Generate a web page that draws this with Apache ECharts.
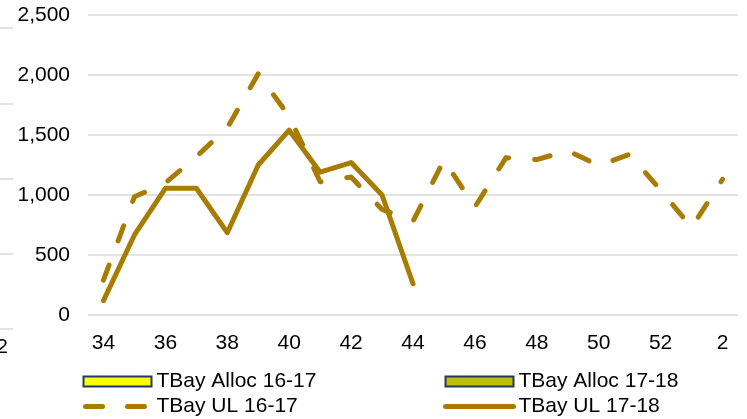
<!DOCTYPE html>
<html>
<head>
<meta charset="utf-8">
<script src="https://cdn.jsdelivr.net/npm/echarts@6/dist/echarts.min.js"></script>
<style>
html,body{margin:0;padding:0;background:#fff;}
#c{width:747px;height:419px;}
</style>
</head>
<body>
<div id="c"></div>
<script>
// ---- data ----
var categories = ['34','35','36','37','38','39','40','41','42','43','44','45','46','47','48','49','50','51','52','1','2'];
var alloc1617 = [];
var alloc1718 = [];
var ul1617 = [290, 985, 1100, 1320, 1560, 2010, 1655, 1110, 1150, 880, 780, 1290, 900, 1310, 1295, 1370, 1245, 1340, 1040, 730, 1130];
var ul1718 = [120, 667, 1056, 1056, 686, 1250, 1540, 1190, 1270, 1000, 260, null, null, null, null, null, null, null, null, null, null];
var yTicks = {min: 0, max: 2500, interval: 500};

var gold = '#A87C00';
var font = 'Liberation Sans, Arial, sans-serif';

var chart = echarts.init(document.getElementById('c'), null, {renderer: 'canvas'});
var option = {
  animation: false,
  backgroundColor: '#fff',
  textStyle: {fontFamily: font},
  grid: [
    {left: 88, right: 9, top: 15, bottom: 104, containLabel: false, outerBoundsMode: 'none'},
    {left: -449, width: 462, top: 28, height: 301, containLabel: false, outerBoundsMode: 'none'}
  ],
  xAxis: [
    {
      type: 'category', gridIndex: 0, data: categories, boundaryGap: true,
      axisLine: {show: false}, axisTick: {show: false},
      axisLabel: {interval: 1, color: '#000', fontSize: 21, fontFamily: font, margin: 18}
    },
    {
      type: 'category', gridIndex: 1, data: categories, boundaryGap: true,
      axisLine: {show: false}, axisTick: {show: false},
      axisLabel: {interval: 1, color: '#000', fontSize: 21, fontFamily: font, margin: 8}
    }
  ],
  yAxis: [
    {
      type: 'value', gridIndex: 0, min: yTicks.min, max: yTicks.max, interval: yTicks.interval,
      axisLine: {show: false}, axisTick: {show: false},
      splitLine: {lineStyle: {color: '#D9D9D9', width: 1.5}},
      axisLabel: {color: '#000', fontSize: 21, fontFamily: font, margin: 18,
        formatter: function (v) { return v.toLocaleString('en-US'); }}
    },
    {
      type: 'value', gridIndex: 1, min: 0, max: 2000, interval: 500,
      axisLine: {show: false}, axisTick: {show: false},
      splitLine: {lineStyle: {color: '#D9D9D9', width: 1.5}},
      axisLabel: {show: false}
    }
  ],
  legend: [
    {
      orient: 'vertical', left: 81, top: 371, padding: 0, itemWidth: 68, itemHeight: 10, itemGap: 4,
      textStyle: {color: '#000', fontSize: 21, fontFamily: font, lineHeight: 21},
      data: [
        {name: 'TBay Alloc 16-17', icon: 'rect'},
        {name: 'TBay UL 16-17', itemStyle: {opacity: 0},
         lineStyle: {width: 5, type: [17, 25], dashOffset: -2, cap: 'round', color: gold}}
      ]
    },
    {
      orient: 'vertical', left: 443, top: 371, padding: 0, itemWidth: 68, itemHeight: 10, itemGap: 4,
      textStyle: {color: '#000', fontSize: 21, fontFamily: font, lineHeight: 21},
      data: [
        {name: 'TBay Alloc 17-18', icon: 'rect'},
        {name: 'TBay UL 17-18', itemStyle: {opacity: 0},
         lineStyle: {width: 5, type: 'solid', cap: 'round', color: gold}}
      ]
    }
  ],
  series: [
    {
      name: 'TBay Alloc 16-17', type: 'bar', xAxisIndex: 0, yAxisIndex: 0, data: alloc1617,
      itemStyle: {color: '#FFFF00', borderColor: '#1F3864', borderWidth: 1.5}
    },
    {
      name: 'TBay Alloc 17-18', type: 'bar', xAxisIndex: 0, yAxisIndex: 0, data: alloc1718,
      itemStyle: {color: '#BFBF00', borderColor: '#1F3864', borderWidth: 1.5}
    },
    {
      name: 'TBay UL 16-17', type: 'line', xAxisIndex: 0, yAxisIndex: 0, data: ul1617,
      symbol: 'none', showSymbol: false,
      lineStyle: {color: gold, width: 5, type: [16, 26], cap: 'round', join: 'round'},
      itemStyle: {color: gold}
    },
    {
      name: 'TBay UL 17-18', type: 'line', xAxisIndex: 0, yAxisIndex: 0, data: ul1718,
      symbol: 'none', showSymbol: false, connectNulls: false,
      lineStyle: {color: gold, width: 5, type: 'solid', cap: 'round', join: 'round'},
      itemStyle: {color: gold}
    }
  ]
};
chart.setOption(option);
</script>
</body>
</html>
